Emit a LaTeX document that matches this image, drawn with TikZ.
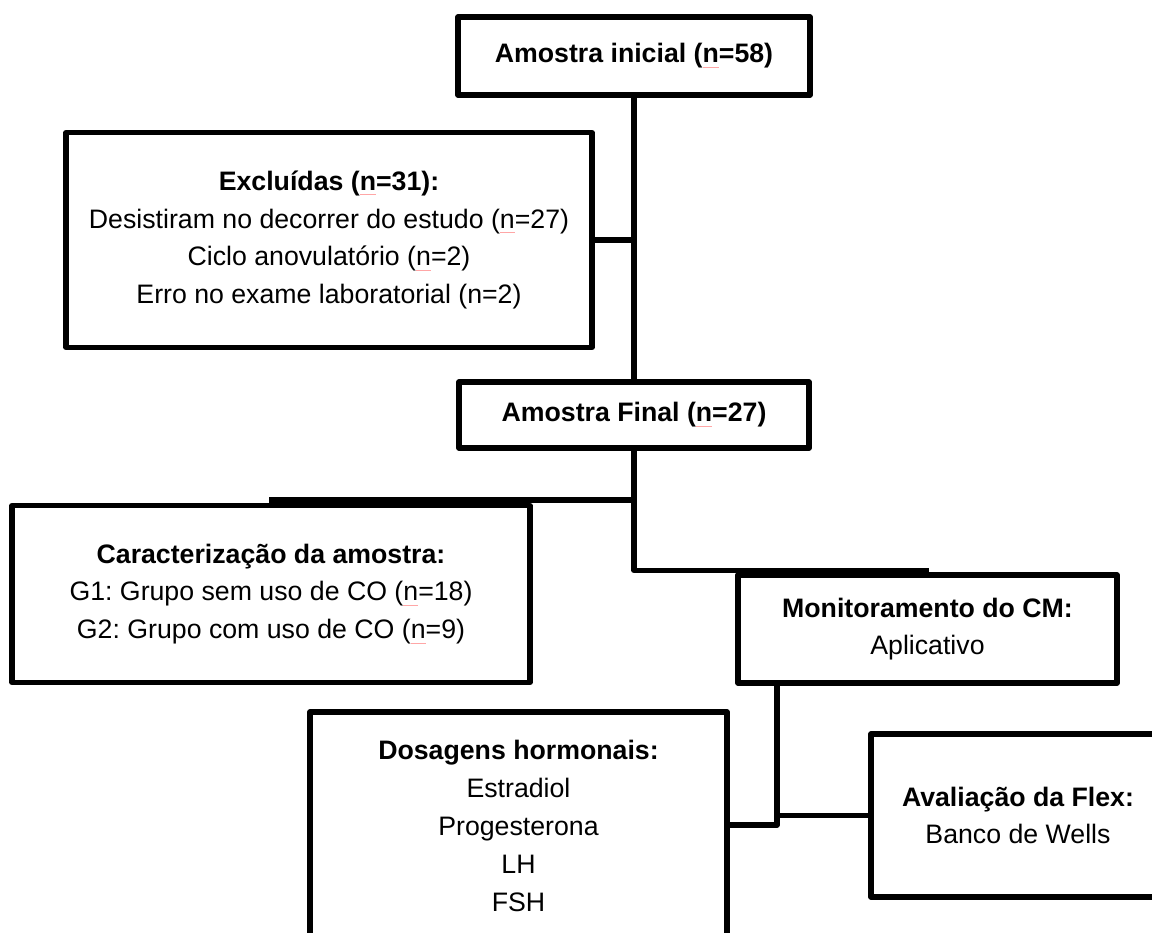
\documentclass[tikz,border=0pt]{standalone}
\usepackage{fontspec}
\setmainfont{Liberation Sans}
\frenchspacing
\newcommand\spn{\setbox0\hbox{n}\rlap{n}{\color{red!35}\rule[-4.5pt]{\wd0}{0.6pt}}}
\begin{document}
\begin{tikzpicture}[x=1pt,y=-1pt,
  box/.style={draw=black,line width=5.2pt,line join=round,fill=white,
    inner sep=0pt,outer sep=0pt,align=center,
    font=\fontsize{26.7}{37.8}\selectfont},
  conn/.style={draw=black,line width=5.2pt,line join=round}]
\useasboundingbox (0,0) rectangle (1152,933);
\fill[white] (0,0) rectangle (1152,933);
\clip (0,0) rectangle (1152,933);

\node[box,minimum width=352pt,minimum height=78pt] (ini) at (634,56)
  {\textbf{Amostra inicial (\spn=58)}};
\node[box,minimum width=526pt,minimum height=215pt] (exc) at (329,240)
  {\textbf{Excluídas (\spn=31):}\\Desistiram no decorrer do estudo (\spn=27)\\Ciclo anovulatório (\spn=2)\\Erro no exame laboratorial (n=2)};
\node[box,minimum width=350pt,minimum height=66pt] (fin) at (634,415)
  {\textbf{Amostra Final (\spn=27)}};
\node[box,minimum width=518pt,minimum height=177pt] (car) at (271,594)
  {\textbf{Caracterização da amostra:}\\G1: Grupo sem uso de CO (\spn=18)\\G2: Grupo com uso de CO (\spn=9)};
\node[box,minimum width=379pt,minimum height=108pt] (mon) at (927.5,629)
  {\textbf{Monitoramento do CM:}\\Aplicativo};
\node[box,minimum width=417pt,minimum height=228pt] (dos) at (518.5,826)
  {\textbf{Dosagens hormonais:}\\Estradiol\\Progesterona\\LH\\FSH};
\node[box,minimum width=294pt,minimum height=163pt] (ava) at (1018,815.5)
  {\textbf{Avaliação da Flex:}\\Banco de Wells};

\coordinate (ml) at (269,500);
\coordinate (mr) at (929,570.5);
\coordinate (md) at (777,825);

\draw[conn] (ini.south) -- (fin.north);
\draw[conn] (exc.east) -- (exc.east -| ini.south);
\draw[conn] (fin.south) |- (mr);
\draw[conn] (ml) -- (ml -| fin.south);
\draw[conn] (md |- mon.south) -- (md) -- (md -| dos.east);
\draw[conn] (md |- ava.west) -- (ava.west);
\end{tikzpicture}
\end{document}
